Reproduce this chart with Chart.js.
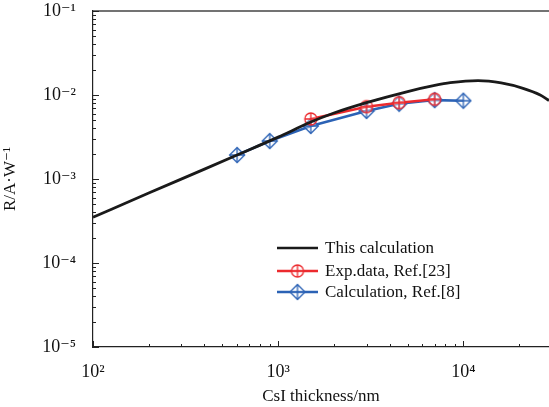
<!DOCTYPE html>
<html>
<head>
<meta charset="utf-8">
<script src="https://cdn.jsdelivr.net/npm/chart.js@4"></script>
<style>
  html, body { margin: 0; padding: 0; background: #fff; }
  #wrap { width: 549px; height: 407px; }
</style>
</head>
<body>
<div id="wrap"><canvas id="myChart"></canvas></div>
<script>
// values
const calcX = [100, 200, 400, 600, 1000, 1500, 2000, 3000, 5000, 7000, 8500, 12000, 16000, 21000, 26000, 29000];
const calcY = [3.5e-4, 6.8e-4, 1.31e-3, 1.93e-3, 3.15e-3, 4.76e-3, 6.1e-3, 8.1e-3, 1.1e-2, 1.3e-2, 1.4e-2, 1.48e-2, 1.39e-2, 1.2e-2, 1.0e-2, 8.6e-3];
const expX = [1500, 3000, 4500, 7000];
const expY = [5.18e-3, 7.26e-3, 8.1e-3, 8.9e-3];
const refX = [600, 900, 1500, 3000, 4500, 7000, 10000];
const refY = [1.93e-3, 2.83e-3, 4.28e-3, 6.45e-3, 7.87e-3, 8.7e-3, 8.55e-3];
const labels = ['This calculation', 'Exp.data, Ref.[23]', 'Calculation, Ref.[8]'];

const FONT = '"Liberation Serif", "DejaVu Serif", serif';
const RED = '#ec2a2e';
const BLUE = '#2b62b5';
const sup = {'-': '⁻', '0': '⁰', '1': '¹', '2': '²', '3': '³', '4': '⁴', '5': '⁵'};

function pts(xs, ys) {
  return xs.map((x, i) => ({x: x, y: ys[i]}));
}

function marker(kind, color) {
  let c = document.createElement('canvas');
  c.width = 18; c.height = 18;
  let g = c.getContext('2d');
  g.strokeStyle = color;
  g.lineWidth = 1.3;
  g.fillStyle = 'rgba(255,255,255,0.35)';
  g.beginPath();
  if (kind === 'circle') {
    g.arc(9, 9, 6, 0, Math.PI * 2);
  } else {
    g.moveTo(9, 1.5); g.lineTo(16.5, 9); g.lineTo(9, 16.5); g.lineTo(1.5, 9); g.closePath();
  }
  g.fill();
  g.stroke();
  let r = kind === 'circle' ? 6 : 7.5;
  g.beginPath();
  g.moveTo(9 - r, 9); g.lineTo(9 + r, 9);
  g.moveTo(9, 9 - r); g.lineTo(9, 9 + r);
  g.stroke();
  return c;
}

const redMark = marker('circle', RED);
const blueMark = marker('diamond', BLUE);

function isPow10(v) {
  let l = Math.log10(v);
  return Math.abs(l - Math.round(l)) < 1e-9;
}
function isLogTick(v) {
  let m = v / Math.pow(10, Math.floor(Math.log10(v) + 1e-9));
  return Math.abs(m - Math.round(m)) < 1e-6;
}
function powLabel(v) {
  let e = String(Math.round(Math.log10(v)));
  return '10' + e.split('').map(ch => sup[ch]).join('');
}

const frame = {
  id: 'frame',
  afterDraw(chart) {
    const {ctx, chartArea: a, scales} = chart;
    ctx.save();
    ctx.strokeStyle = '#444';
    ctx.lineWidth = 1.6;
    // top line
    ctx.beginPath();
    ctx.moveTo(a.left, a.top); ctx.lineTo(a.right, a.top);
    ctx.stroke();
    // inward ticks
    ctx.strokeStyle = '#222';
    ctx.lineWidth = 1;
    for (let t of scales.x.ticks) {
      if (!isLogTick(t.value)) continue;
      let px = Math.round(scales.x.getPixelForValue(t.value)) + 0.5;
      let len = isPow10(t.value) ? 6 : 3;
      ctx.beginPath();
      ctx.moveTo(px, a.bottom); ctx.lineTo(px, a.bottom - len);
      ctx.stroke();
    }
    for (let t of scales.y.ticks) {
      if (!isLogTick(t.value)) continue;
      let py = Math.round(scales.y.getPixelForValue(t.value)) + 0.5;
      let len = isPow10(t.value) ? 6 : 3;
      ctx.beginPath();
      ctx.moveTo(a.left, py); ctx.lineTo(a.left + len, py);
      ctx.stroke();
    }
    // legend inside the plot
    const rows = [
      {color: '#1a1a1a', mark: null, y: 248},
      {color: RED, mark: redMark, y: 271},
      {color: BLUE, mark: blueMark, y: 292},
    ];
    ctx.font = '17px ' + FONT;
    ctx.textBaseline = 'middle';
    ctx.fillStyle = '#111';
    rows.forEach((r, i) => {
      ctx.strokeStyle = r.color;
      ctx.lineWidth = 2.6;
      ctx.beginPath();
      ctx.moveTo(277, r.y); ctx.lineTo(318, r.y);
      ctx.stroke();
      if (r.mark) ctx.drawImage(r.mark, 297.5 - 9, r.y - 9);
      ctx.fillText(labels[i], 325, r.y + 1);
    });
    ctx.restore();
  }
};

new Chart(document.getElementById('myChart'), {
  type: 'line',
  data: {
    datasets: [
      {
        label: labels[0],
        data: pts(calcX, calcY),
        borderColor: '#1a1a1a',
        borderWidth: 2.8,
        pointRadius: 0,
        cubicInterpolationMode: 'monotone',
      },
      {
        label: labels[1],
        data: pts(expX, expY),
        borderColor: RED,
        borderWidth: 2.6,
        pointStyle: redMark,
        pointRadius: 9,
        tension: 0,
      },
      {
        label: labels[2],
        data: pts(refX, refY),
        borderColor: BLUE,
        borderWidth: 2.6,
        pointStyle: blueMark,
        pointRadius: 9,
        tension: 0,
      },
    ]
  },
  options: {
    responsive: true,
    maintainAspectRatio: false,
    animation: false,
    layout: {autoPadding: false, padding: {top: 11, right: 0, left: 0, bottom: 0}},
    plugins: {
      legend: {display: false},
      tooltip: {enabled: false},
    },
    scales: {
      x: {
        type: 'logarithmic',
        min: 100,
        max: 29000,
        grid: {display: false},
        border: {display: true, color: '#222', width: 1.2},
        ticks: {
          autoSkip: false,
          maxRotation: 0,
          color: '#111',
          padding: 6,
          font: {family: FONT, size: 18},
          callback: v => isPow10(v) ? powLabel(v) : '',
        },
        title: {
          display: true,
          text: 'CsI thickness/nm',
          color: '#111',
          font: {family: FONT, size: 17},
          padding: {top: 0, bottom: 0},
        },
        afterFit: s => { s.height = 60; s.paddingLeft = 0; s.paddingRight = 0; },
      },
      y: {
        type: 'logarithmic',
        min: 1e-5,
        max: 1e-1,
        grid: {display: false},
        border: {display: true, color: '#222', width: 1.2},
        ticks: {
          autoSkip: false,
          color: '#111',
          padding: 9,
          font: {family: FONT, size: 18},
          callback: v => isPow10(v) ? powLabel(v) : '',
        },
        title: {
          display: true,
          text: 'R/A·W⁻¹',
          color: '#111',
          font: {family: FONT, size: 17},
          padding: {top: 0, bottom: 4},
        },
        afterFit: s => { s.width = 93; s.paddingTop = 0; s.paddingBottom = 0; },
      }
    }
  },
  plugins: [frame]
});
</script>
</body>
</html>
